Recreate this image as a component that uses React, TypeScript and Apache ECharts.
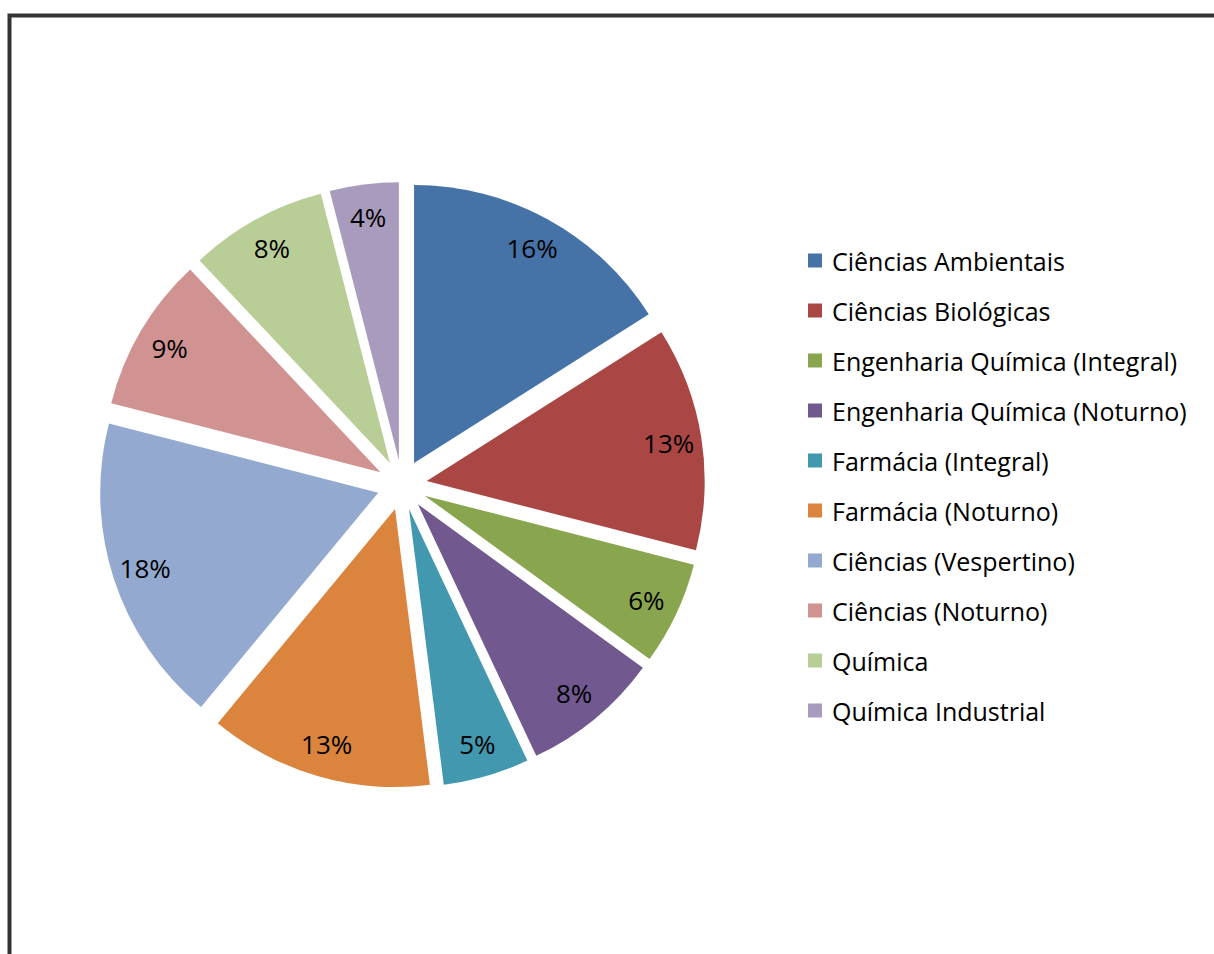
import React, { useEffect, useRef } from "react";
import * as echarts from "echarts";

const categories = [
  "Ciências Ambientais",
  "Ciências Biológicas",
  "Engenharia Química (Integral)",
  "Engenharia Química (Noturno)",
  "Farmácia (Integral)",
  "Farmácia (Noturno)",
  "Ciências (Vespertino)",
  "Ciências (Noturno)",
  "Química",
  "Química Industrial",
];
const values = [16, 13, 6, 8, 5, 13, 18, 9, 8, 4];
const colors = [
  "#4572A7",
  "#AA4643",
  "#89A54E",
  "#71588F",
  "#4198AF",
  "#DB843D",
  "#93A9CF",
  "#D19392",
  "#B9CD96",
  "#A99BBD",
];

const FONT = "'Open Sans', 'Noto Sans', sans-serif";

export default function App() {
  const ref = useRef<HTMLDivElement>(null);
  useEffect(() => {
    if (!ref.current) return;
    const chart = echarts.init(ref.current, undefined, { renderer: "svg" });
    const mainData = categories.map((name, i) => ({
      name,
      value: values[i],
      selected: true,
      itemStyle: { color: colors[i] },
    }));
    const labelData = categories.map((name, i) => ({
      name,
      value: values[i],
    }));
    chart.setOption({
      animation: false,
      backgroundColor: "#ffffff",
      legend: {
        orient: "vertical",
        left: 808,
        top: 248,
        padding: 0,
        data: categories,
        itemWidth: 14,
        itemHeight: 14,
        itemGap: 25,
        icon: "rect",
        selectedMode: false,
        textStyle: {
          fontFamily: FONT,
          fontSize: 25,
          lineHeight: 25,
          color: "#000000",
          padding: [0, 0, 0, 5],
        },
      },
      graphic: [
        {
          type: "rect",
          shape: { x: 9.5, y: 15.5, width: 1400, height: 1200 },
          style: { fill: "none", stroke: "#333333", lineWidth: 4 },
          silent: true,
        },
      ],
      series: [
        {
          type: "pie",
          name: "main",
          center: [402, 485],
          radius: [0, 278],
          startAngle: 90,
          clockwise: true,
          selectedMode: "multiple",
          selectedOffset: 25,
          itemStyle: { borderWidth: 0 },
          label: { show: false },
          labelLine: { show: false },
          emphasis: { disabled: true },
          z: 2,
          data: mainData,
        },
        {
          type: "pie",
          name: "labels",
          center: [402, 485],
          radius: [0, 534],
          startAngle: 90,
          clockwise: true,
          silent: true,
          selectedMode: false,
          itemStyle: { color: "rgba(0,0,0,0)", borderWidth: 0 },
          label: {
            show: true,
            position: "inside",
            fontFamily: FONT,
            fontSize: 26,
            color: "#000000",
            formatter: (p: any) => Math.round(p.percent) + "%",
          },
          labelLine: { show: false },
          emphasis: { disabled: true },
          z: 3,
          data: labelData,
        },
      ],
    });
    return () => chart.dispose();
  }, []);
  return (
    <div
      ref={ref}
      style={{ position: "absolute", left: 0, top: 0, width: 1214, height: 954 }}
    />
  );
}
